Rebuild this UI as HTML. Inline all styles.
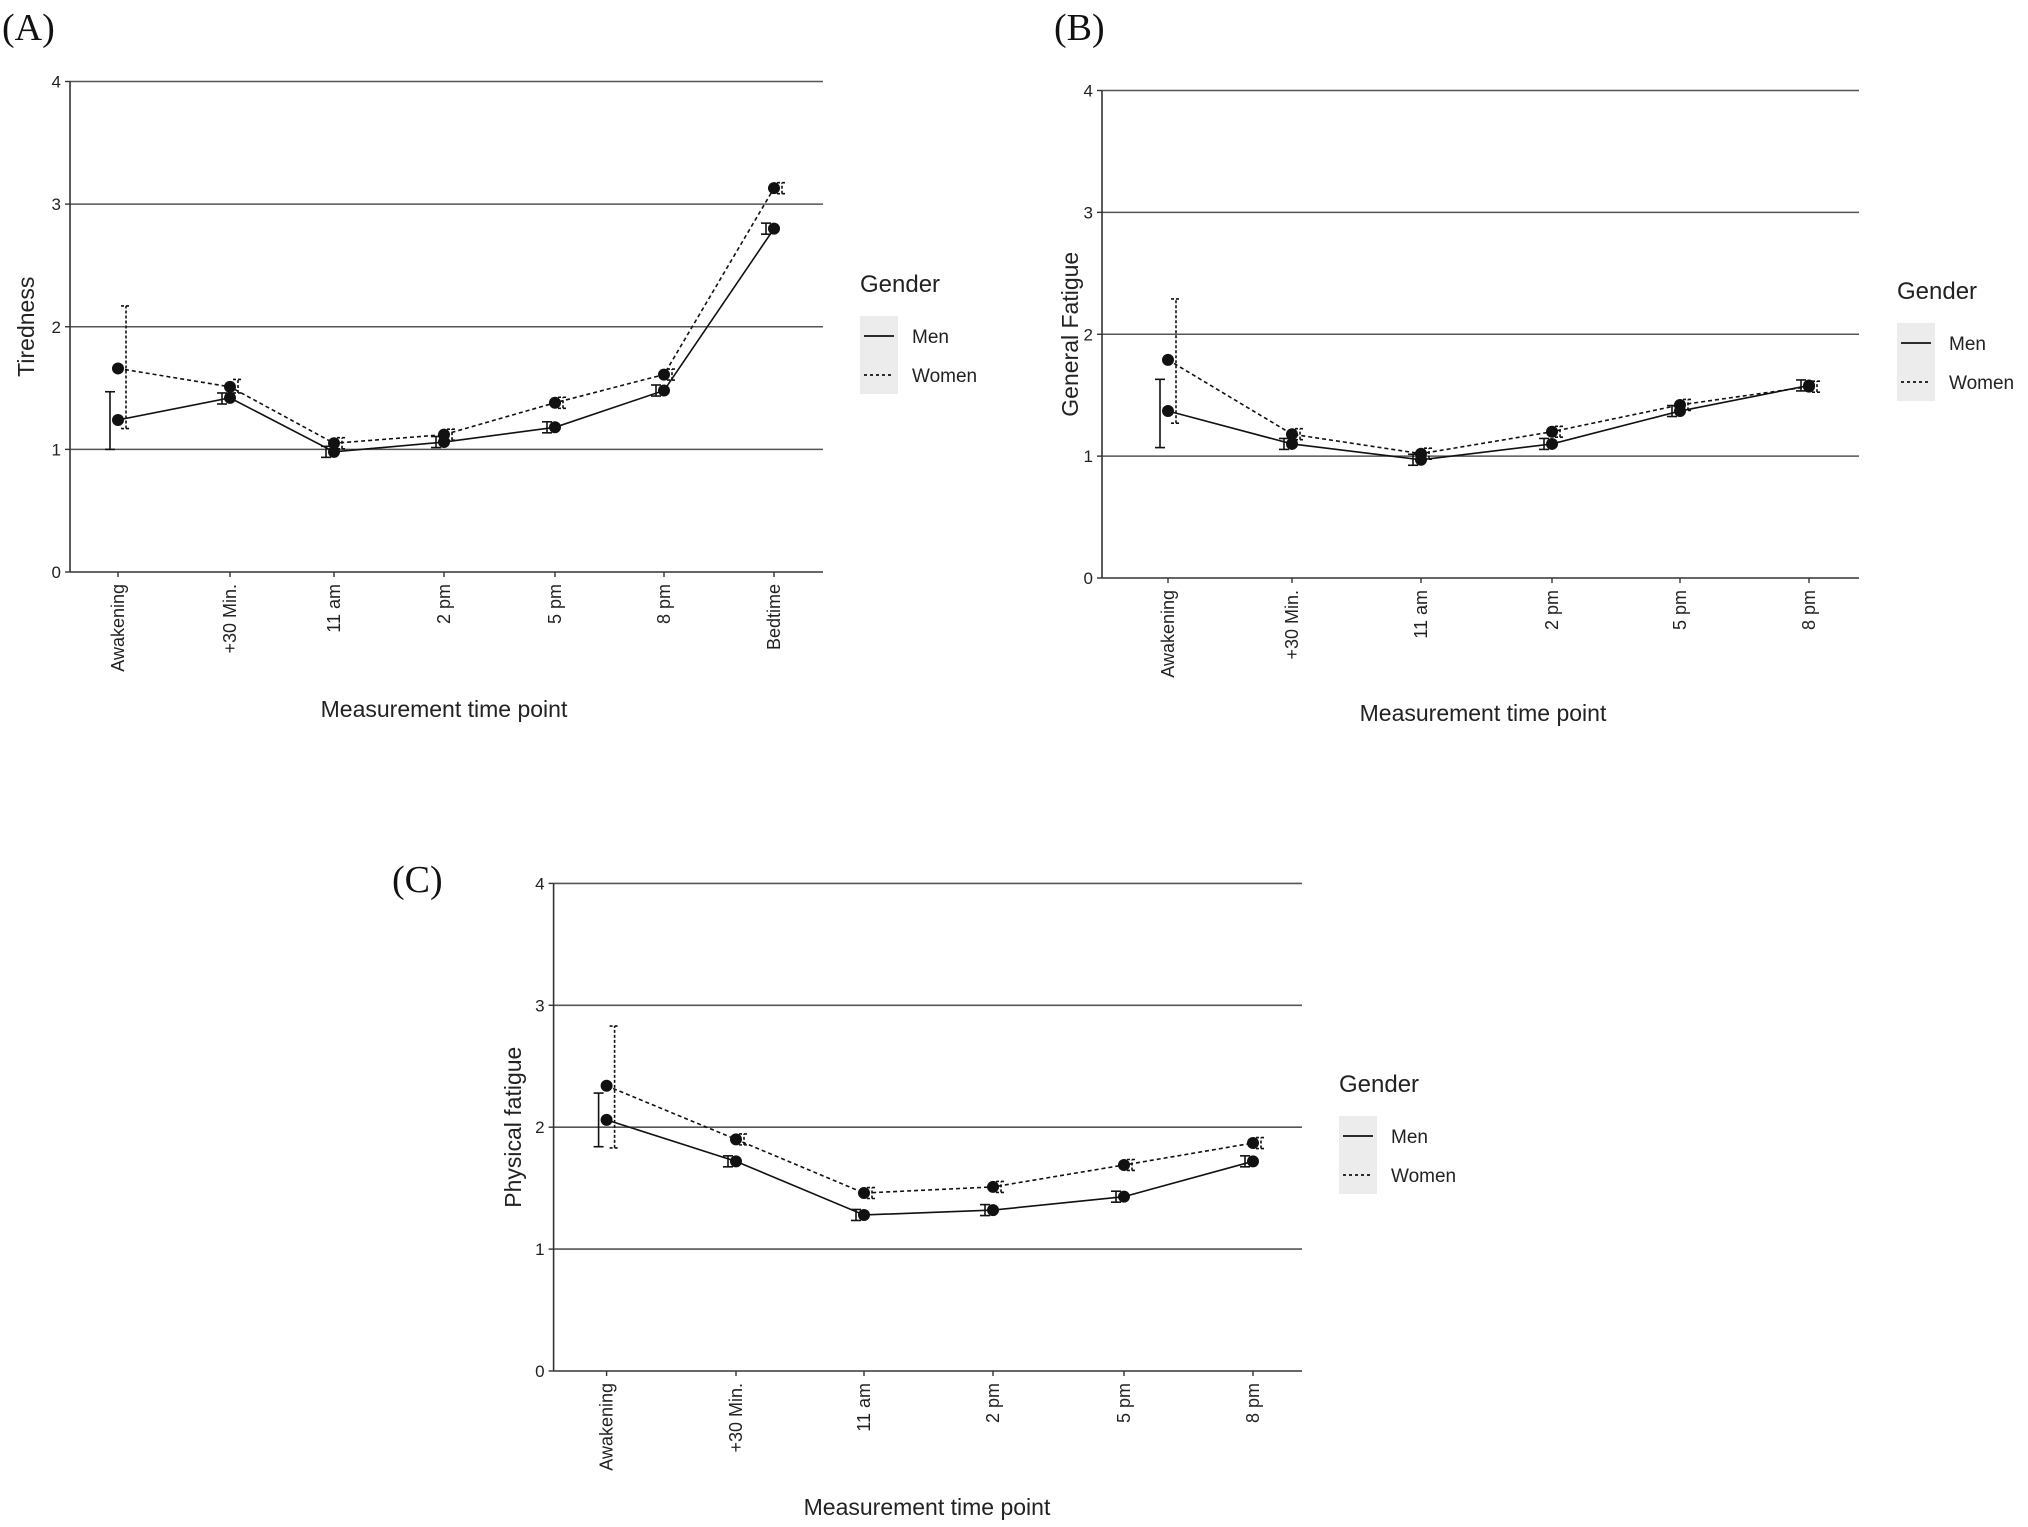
<!DOCTYPE html>
<html><head><meta charset="utf-8"><style>
html,body{margin:0;padding:0;background:#fff}
svg{display:block}
text{font-family:"Liberation Sans",sans-serif;fill:#222}
.lab{font-family:"Liberation Serif",serif;font-size:38px;fill:#111}
</style></head><body>
<svg id="s" width="2028" height="1527" viewBox="0 0 2028 1527" xmlns="http://www.w3.org/2000/svg">
<text class="lab" x="2" y="40">(A)</text>
<text class="lab" x="1054" y="40">(B)</text>
<text class="lab" x="392" y="892">(C)</text>
</svg>
<script>
const s=document.getElementById('s');const NS='http://www.w3.org/2000/svg';
function el(t,a,txt){const e=document.createElementNS(NS,t);for(const k in a)e.setAttribute(k,a[k]);if(txt!==undefined)e.textContent=txt;s.appendChild(e);return e;}
function panel(p){
 const Y=v=>p.y0+(p.y4-p.y0)*v/4;
 for(let v=1;v<=4;v++)el('line',{x1:p.ax,x2:p.right,y1:Y(v),y2:Y(v),stroke:'#555','stroke-width':1.6});
 el('line',{x1:p.ax,x2:p.right,y1:p.y0,y2:p.y0,stroke:'#333','stroke-width':1.6});
 el('line',{x1:p.ax,x2:p.ax,y1:p.y4,y2:p.y0,stroke:'#333','stroke-width':1.6});
 for(let v=0;v<=4;v++){el('line',{x1:p.ax-5,x2:p.ax,y1:Y(v),y2:Y(v),stroke:'#333','stroke-width':1.4});
  el('text',{x:p.ax-9,y:Y(v)+6,'text-anchor':'end','font-size':17},String(v));}
 p.cats.forEach((c,i)=>{const x=p.xs[i];el('line',{x1:x,x2:x,y1:p.y0,y2:p.y0+5,stroke:'#333','stroke-width':1.4});
  el('text',{transform:`translate(${x+6},${p.y0+12}) rotate(-90)`,'text-anchor':'end','font-size':18},c);});
 el('text',{x:p.xtx,y:p.xty,'text-anchor':'middle','font-size':23},'Measurement time point');
 el('text',{transform:`translate(${p.ytx},${(p.y0+p.y4)/2}) rotate(-90)`,'text-anchor':'middle','font-size':23},p.yt);
 [[p.men,p.menE,-8,null],[p.wom,p.womE,8,'4,3']].forEach(([d,e,off,da])=>{
  const pts=d.map((v,i)=>(p.xs[i])+','+Y(v)).join(' ');
  const la={points:pts,fill:'none',stroke:'#111','stroke-width':1.6};if(da)la['stroke-dasharray']=da;el('polyline',la);
  d.forEach((v,i)=>{const x=p.xs[i]+off;const lo=e[i]?e[i][0]:v-0.045,hi=e[i]?e[i][1]:v+0.045;
   const a={stroke:'#111','stroke-width':1.6};if(da)a['stroke-dasharray']='3,2';
   el('line',Object.assign({x1:x,x2:x,y1:Y(lo),y2:Y(hi)},a));
   el('line',Object.assign({x1:x-5,x2:x+5,y1:Y(lo),y2:Y(lo)},a));
   el('line',Object.assign({x1:x-5,x2:x+5,y1:Y(hi),y2:Y(hi)},a));});
  d.forEach((v,i)=>el('circle',{cx:p.xs[i],cy:Y(v),r:6,fill:'#111'}));
 });
 const L=p.leg;
 el('text',{x:L[0],y:L[1],'font-size':24},'Gender');
 el('rect',{x:L[0],y:L[1]+24,width:38,height:78,fill:'#ececec'});
 el('line',{x1:L[0]+4,x2:L[0]+34,y1:L[1]+44,y2:L[1]+44,stroke:'#111','stroke-width':1.8});
 el('line',{x1:L[0]+4,x2:L[0]+34,y1:L[1]+83,y2:L[1]+83,stroke:'#111','stroke-width':1.8,'stroke-dasharray':'3,3'});
 el('text',{x:L[0]+52,y:L[1]+51,'font-size':19},'Men');
 el('text',{x:L[0]+52,y:L[1]+90,'font-size':19},'Women');
}
panel({ax:70,right:823,y4:81.5,y0:572,xs:[118,230,334,444,555,664,774],
 cats:['Awakening','+30 Min.','11 am','2 pm','5 pm','8 pm','Bedtime'],yt:'Tiredness',
 xtx:444,xty:717,ytx:34,leg:[860,292],
 men:[1.24,1.42,0.98,1.06,1.18,1.48,2.80],menE:[[1.0,1.47],[1.37,1.46]],
 wom:[1.66,1.51,1.05,1.12,1.38,1.61,3.13],womE:[[1.17,2.17],[1.46,1.57]]});
panel({ax:1102,right:1859,y4:90.5,y0:578,xs:[1168,1292,1421,1552,1680,1809],
 cats:['Awakening','+30 Min.','11 am','2 pm','5 pm','8 pm'],yt:'General Fatigue',
 xtx:1483,xty:721,ytx:1078,leg:[1897,299],
 men:[1.37,1.10,0.97,1.10,1.37,1.58],menE:[[1.07,1.63]],
 wom:[1.79,1.18,1.02,1.20,1.42,1.57],womE:[[1.27,2.29]]});
panel({ax:553.6,right:1302,y4:883.4,y0:1371,xs:[606.6,736,864,993,1124,1253],
 cats:['Awakening','+30 Min.','11 am','2 pm','5 pm','8 pm'],yt:'Physical fatigue',
 xtx:927,xty:1515,ytx:521,leg:[1339,1092],
 men:[2.06,1.72,1.28,1.32,1.43,1.72],menE:[[1.84,2.28]],
 wom:[2.34,1.90,1.46,1.51,1.69,1.87],womE:[[1.83,2.83]]});
</script>
</body></html>
